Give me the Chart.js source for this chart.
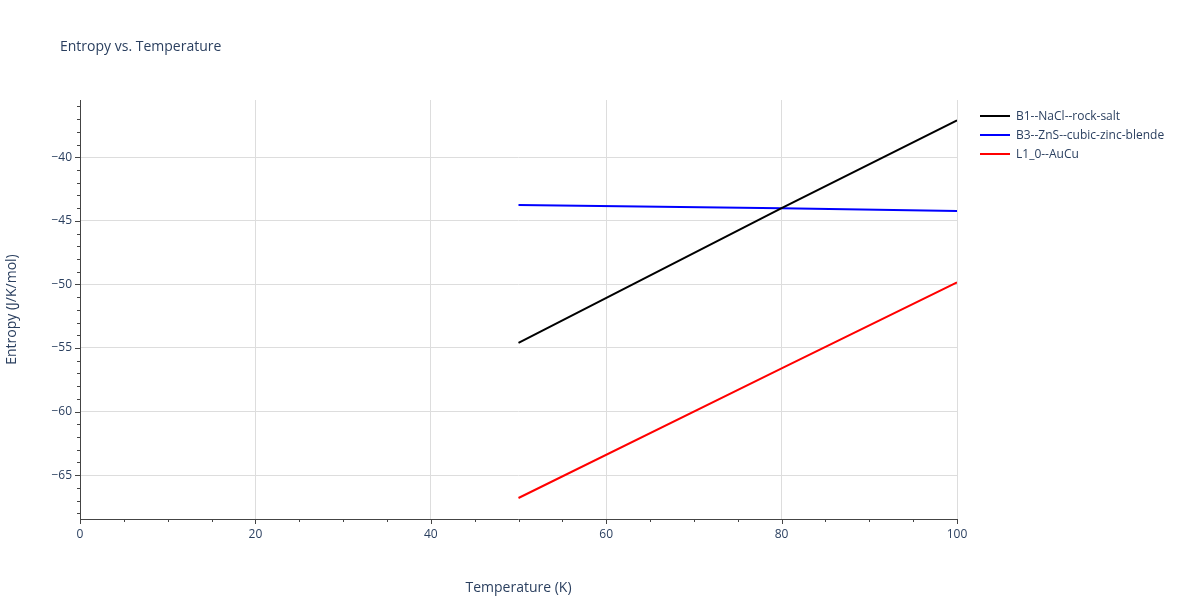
<!DOCTYPE html>
<html><head><meta charset="utf-8">
<script src="https://cdn.jsdelivr.net/npm/chart.js"></script>
<style>
body{margin:0;background:#fff;font-family:"Open Sans",sans-serif;}
#wrap{position:relative;width:1200px;height:600px;}
#title{position:absolute;left:60px;top:36px;font-size:14px;color:#2a3f5f;}
#legend{position:absolute;left:980px;top:106px;font-size:12px;color:#2a3f5f;}
.li{display:flex;align-items:center;height:19px;}
.sw{width:30px;height:2px;margin-right:6px;}
</style></head><body>
<div id="wrap"><canvas id="c" width="1200" height="600"></canvas>
<div id="title">Entropy vs. Temperature</div>
<div id="legend"></div></div>
<script>
const seriesNames=["B1--NaCl--rock-salt","B3--ZnS--cubic-zinc-blende","L1_0--AuCu"];
const seriesColors=["#000000","#0000ff","#ff0000"];
const temps=[50,80,100];
const b1=[-54.6,-44.0,-37.1];
const b3=[-43.76,-44.02,-44.23];
const l10=[-66.8,-56.6,-49.85];
const vals=[b1,b3,l10];
const xTicks=[0,20,40,60,80,100];
const yTicks=[-40,-45,-50,-55,-60,-65];
const leg=document.getElementById('legend');
seriesNames.forEach((n,i)=>{leg.innerHTML+=`<div class="li"><div class="sw" style="background:${seriesColors[i]}"></div>${n}</div>`;});
const tc='#2a3f5f';
const minor={id:'minor',afterDraw(ch){const c=ch.ctx,x=ch.scales.x,y=ch.scales.y,a=ch.chartArea;c.save();c.strokeStyle='#444';c.lineWidth=1;
for(let v=0;v<=100;v+=5){const p=Math.round(x.getPixelForValue(v))+0.5;const L=v%20===0?5:3;c.beginPath();c.moveTo(p,a.bottom);c.lineTo(p,a.bottom+L);c.stroke();}
for(let v=-68;v<=-36;v+=1){const p=Math.round(y.getPixelForValue(v))+0.5;const L=v%5===0?5:3;c.beginPath();c.moveTo(a.left,p);c.lineTo(a.left-L,p);c.stroke();}
c.beginPath();c.moveTo(a.left,a.bottom+0.5);c.lineTo(a.right,a.bottom+0.5);c.moveTo(a.left+0.5,a.top);c.lineTo(a.left+0.5,a.bottom);c.stroke();c.restore();}};
new Chart(document.getElementById('c'),{type:'scatter',
data:{datasets:seriesNames.map((n,i)=>({label:n,data:temps.map((t,j)=>({x:t,y:vals[i][j]})),showLine:true,borderColor:seriesColors[i],borderWidth:2,pointRadius:0,fill:false}))},
options:{responsive:false,animation:false,layout:{padding:{top:100,right:243,left:0,bottom:0}},
plugins:{legend:{display:false},tooltip:{enabled:false}},
scales:{
x:{type:'linear',min:0,max:100,afterBuildTicks:s=>{s.ticks=xTicks.map(v=>({value:v}));},afterFit:s=>{s.height=81;},
grid:{color:'#dddddd',drawTicks:false},border:{display:false},ticks:{color:tc,font:{size:12,family:'Open Sans'},padding:8},
title:{display:true,text:'Temperature (K)',color:tc,font:{size:14,family:'Open Sans'},padding:{top:12}}},
y:{min:-68.45,max:-35.5,afterBuildTicks:s=>{s.ticks=yTicks.map(v=>({value:v}));},afterFit:s=>{s.width=80;},
grid:{color:'#dddddd',drawTicks:false},border:{display:false},ticks:{color:tc,font:{size:12,family:'Open Sans'},padding:8,callback:v=>String(v).replace('-','\u2212')},
title:{display:true,text:'Entropy (J/K/mol)',color:tc,font:{size:14,family:'Open Sans'},padding:{bottom:6}}}}},
plugins:[minor]});
</script></body></html>
